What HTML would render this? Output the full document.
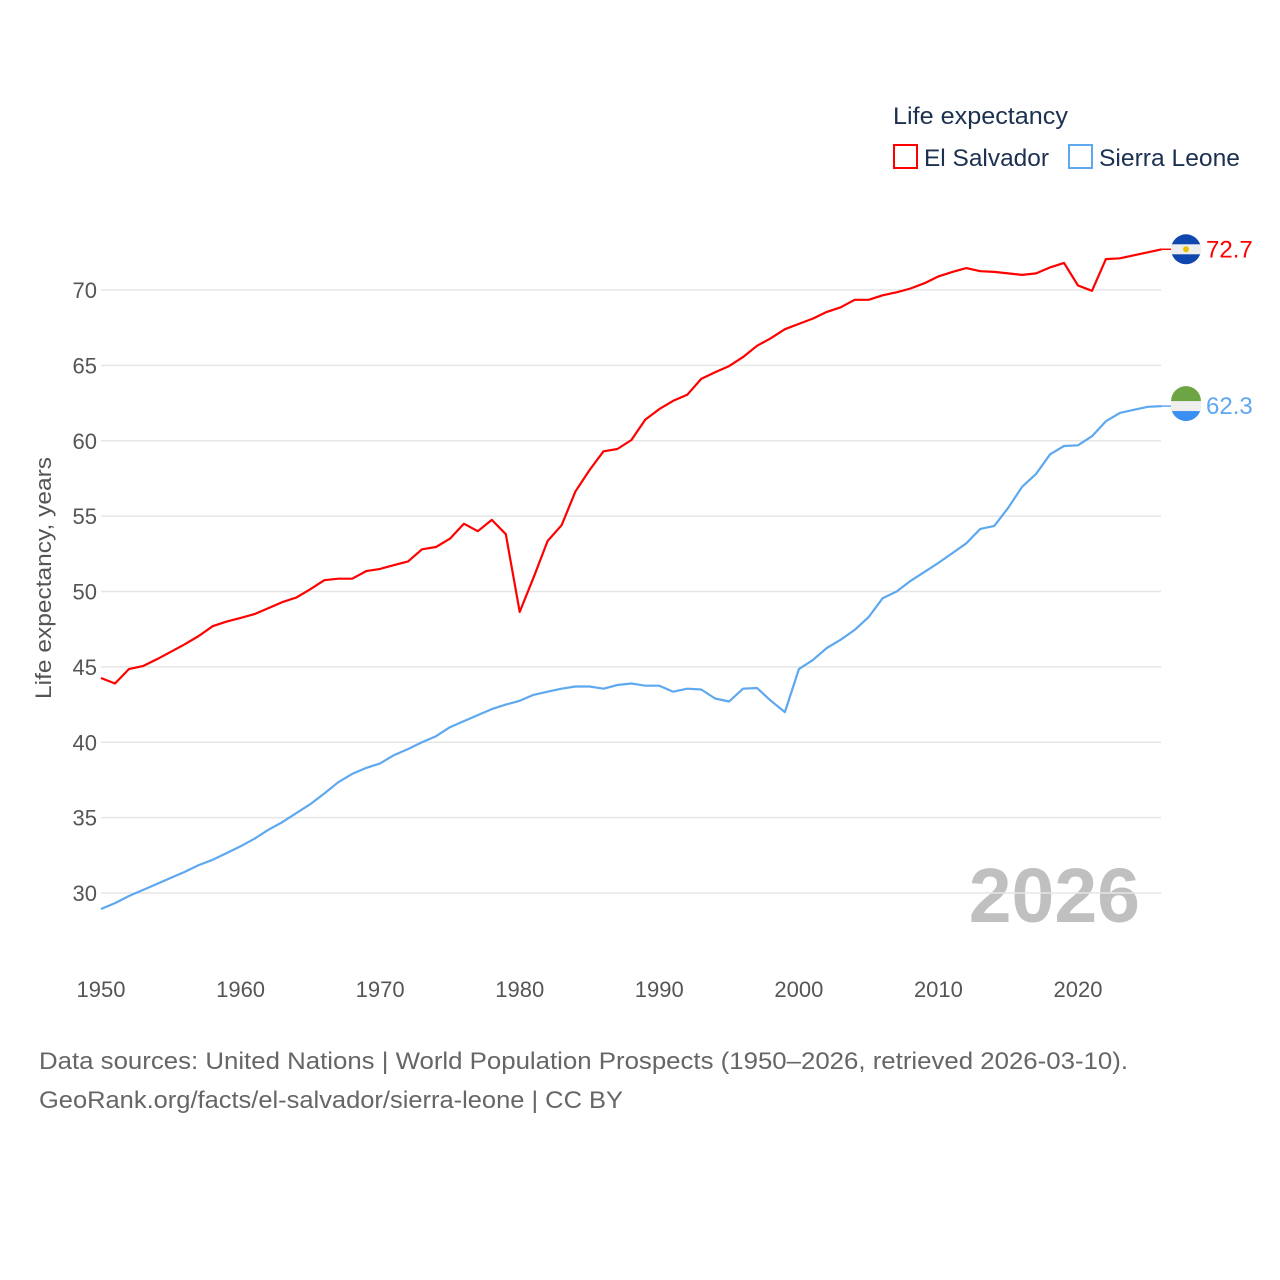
<!DOCTYPE html>
<html><head><meta charset="utf-8"><style>
html,body{margin:0;padding:0;background:#fff;width:1280px;height:1280px;overflow:hidden;font-family:"Liberation Sans",sans-serif}
</style></head><body>
<svg id="chart" width="1280" height="1280" xmlns="http://www.w3.org/2000/svg" font-family="Liberation Sans, sans-serif">
<text x="1140" y="922" text-anchor="end" font-size="77" font-weight="bold" fill="#c0c0c0">2026</text>
<g id="grid"></g>
<g id="yticks"></g>
<g id="xticks"></g>
<text transform="translate(51,578) rotate(-90)" text-anchor="middle" font-size="22" fill="#555" textLength="242" lengthAdjust="spacingAndGlyphs">Life expectancy, years</text>
<g id="series"></g>
<g>
<text x="893" y="124" font-size="24" fill="#1c3050" textLength="175" lengthAdjust="spacingAndGlyphs">Life expectancy</text>
<rect x="894" y="145" width="23" height="23" fill="none" stroke="#ff0000" stroke-width="2"/>
<text x="924" y="166" font-size="24" fill="#1c3050" textLength="125" lengthAdjust="spacingAndGlyphs">El Salvador</text>
<rect x="1069" y="145" width="23" height="23" fill="none" stroke="#5ea8ef" stroke-width="2"/>
<text x="1099" y="166" font-size="24" fill="#1c3050" textLength="141" lengthAdjust="spacingAndGlyphs">Sierra Leone</text>
</g>
<g font-size="24" fill="#666">
<text x="39" y="1069" textLength="1089" lengthAdjust="spacingAndGlyphs">Data sources: United Nations | World Population Prospects (1950–2026, retrieved 2026-03-10).</text>
<text x="39" y="1108" textLength="584" lengthAdjust="spacingAndGlyphs">GeoRank.org/facts/el-salvador/sierra-leone | CC BY</text>
</g>
</svg>
<script>
const years = [];
for (let y = 1950; y <= 2026; y++) years.push(y);
const elSalvador = [44.26,43.9,44.85,45.05,45.5,46.0,46.5,47.05,47.7,48.0,48.25,48.5,48.9,49.3,49.6,50.15,50.75,50.85,50.85,51.35,51.5,51.75,52.0,52.8,52.95,53.5,54.5,54.0,54.75,53.8,48.65,50.95,53.35,54.4,56.65,58.05,59.3,59.45,60.05,61.4,62.1,62.65,63.05,64.1,64.55,64.95,65.55,66.3,66.8,67.4,67.75,68.1,68.55,68.85,69.35,69.35,69.65,69.85,70.1,70.45,70.9,71.2,71.45,71.25,71.2,71.1,71.0,71.1,71.5,71.8,70.3,69.95,72.05,72.1,72.3,72.5,72.7];
const sierraLeone = [28.94,29.33,29.8,30.2,30.6,31.0,31.4,31.85,32.2,32.65,33.1,33.6,34.2,34.7,35.3,35.9,36.6,37.35,37.9,38.3,38.6,39.15,39.55,40.0,40.4,41.0,41.4,41.8,42.2,42.5,42.75,43.15,43.35,43.55,43.7,43.7,43.55,43.8,43.9,43.75,43.75,43.35,43.55,43.5,42.9,42.7,43.55,43.6,42.75,42.0,44.85,45.45,46.25,46.8,47.45,48.3,49.55,50.0,50.7,51.3,51.9,52.55,53.2,54.15,54.35,55.55,56.95,57.8,59.1,59.65,59.7,60.3,61.3,61.85,62.05,62.25,62.3];
const yTicks = [30,35,40,45,50,55,60,65,70];
const xTicks = [1950,1960,1970,1980,1990,2000,2010,2020];
const NS='http://www.w3.org/2000/svg';
const xs = v => 101 + (v - 1950) * (1078 - 101) / 70;
const ys = v => 893 - (v - 30) * (893 - 290) / 40;
function mk(tag, attrs, parent, text){const e=document.createElementNS(NS,tag);for(const k in attrs)e.setAttribute(k,attrs[k]);if(text!==undefined)e.textContent=text;parent.appendChild(e);return e;}
const grid=document.getElementById('grid'), yt=document.getElementById('yticks'), xt=document.getElementById('xticks'), ser=document.getElementById('series');
yTicks.forEach(t=>{
  const l=mk('line',{x1:101,x2:1161,y1:ys(t),y2:ys(t),stroke:'#e6e6e6','stroke-width':1.5},grid);
  
  
  const tx=mk('text',{x:97,y:ys(t)+8,'text-anchor':'end','font-size':22,fill:'#555'},yt,String(t));
  
  
});
xTicks.forEach(t=>{
  const tx=mk('text',{x:xs(t),y:997,'text-anchor':'middle','font-size':22,fill:'#555'},xt,String(t));
  
  
});
function drawSeries(vals,color,name){
  const d=vals.map((v,i)=>(i?'L':'M')+xs(years[i]).toFixed(1)+','+ys(v).toFixed(1)).join(' ');
  const p=mk('path',{d:d,fill:'none',stroke:color,'stroke-width':2.2,'stroke-linejoin':'round'},ser);
  
  
  const last=vals[vals.length-1], ly=ys(last), lx=xs(years[years.length-1]);
  const c=mk('line',{x1:lx,x2:1175,y1:ly,y2:ly,stroke:color,'stroke-width':1.5},ser);
  
  
  const g=mk('g',{transform:'translate(1186,'+ly+')'},ser);
  
  
  if(name==='el-salvador'){
    mk('circle',{r:15,fill:'#0f47af'},g);
    mk('rect',{x:-15,y:-5,width:30,height:10,fill:'#eee'},g);
    mk('circle',{r:3,fill:'#e8c200'},g);
  } else {
    mk('circle',{r:15,fill:'#3a8ff0'},g);
    mk('path',{d:'M-15,-5 A15,15 0 0 1 15,-5 Z',fill:'#6ea544'},g);
    mk('rect',{x:-15,y:-5,width:30,height:10,fill:'#eee'},g);
  }
  const lb=mk('text',{x:1206,y:ly+8,'font-size':24,fill:color},ser,last.toFixed(1));
  
  
}
drawSeries(sierraLeone,'#5ea8ef','sierra-leone');
drawSeries(elSalvador,'#ff0000','el-salvador');
</script>
</body></html>
